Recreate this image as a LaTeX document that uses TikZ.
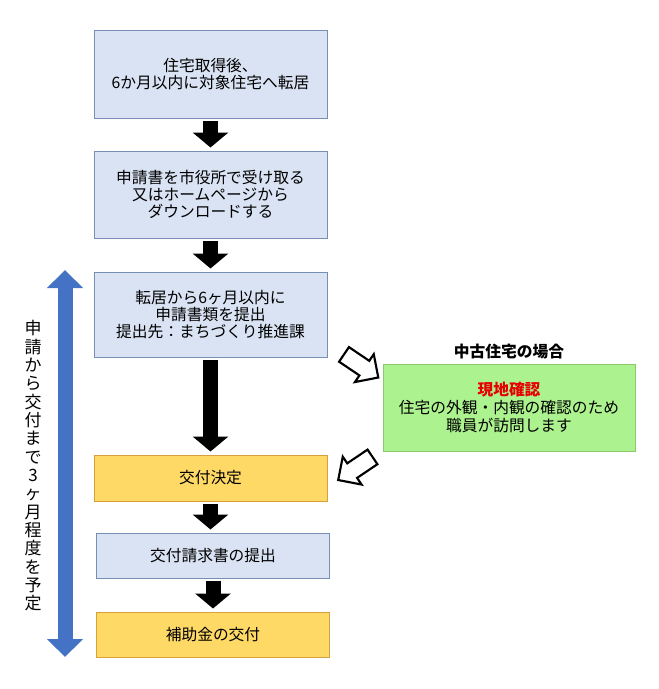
\documentclass[tikz,border=0pt]{standalone}
\usepackage{fontspec}
\setmainfont{Noto Sans CJK JP}
\usetikzlibrary{arrows.meta,shapes.arrows,positioning}
\definecolor{boxblue}{RGB}{218,227,243}
\definecolor{lineblue}{RGB}{120,143,180}
\definecolor{boxgold}{RGB}{255,217,102}
\definecolor{linegold}{RGB}{214,160,60}
\definecolor{boxgreen}{RGB}{172,242,142}
\definecolor{linegreen}{RGB}{140,200,110}
\definecolor{periodblue}{RGB}{68,114,196}
\definecolor{checkred}{RGB}{230,0,0}
\tikzset{every picture/.style={line width=0.75pt}}

\begin{document}
\begin{tikzpicture}[x=0.75pt,y=0.75pt,yscale=-1,xscale=1,
  stepbox/.style={draw=lineblue,fill=boxblue,minimum width=174.75pt,align=center,inner sep=0pt,font=\fontsize{11.8}{13}\selectfont},
  goldbox/.style={stepbox,draw=linegold,fill=boxgold},
  downarrow/.style={line width=11.25pt,-{Triangle[width=26.25pt,length=11.25pt]},shorten <=1.5pt,shorten >=2.25pt},
  hollowarrow/.style={draw,line width=1.6pt,single arrow,minimum height=31pt,single arrow head extend=6pt,inner xsep=0pt,inner ysep=5.8pt}]
		\useasboundingbox (0,0) rectangle (659,689);
		
		%Shape: Rectangle [id:move] 
		\node[stepbox,minimum height=66pt] (move) at (210.5,74) {住宅取得後、\\6か月以内に対象住宅へ転居};
		%Shape: Rectangle [id:form] 
		\node[stepbox,minimum height=65.25pt] (form) at (210.5,194.5) {申請書を市役所で受け取る\\又はホームページから\\ダウンロードする};
		%Shape: Rectangle [id:apply] 
		\node[stepbox,minimum height=63.75pt] (apply) at (210.5,314.5) {転居から6ヶ月以内に\\申請書類を提出\\提出先：まちづくり推進課};
		%Shape: Rectangle [id:decide] 
		\node[goldbox,minimum height=34.5pt] (decide) at (210.5,478) {交付決定};
		%Shape: Rectangle [id:claim] 
		\node[stepbox,minimum height=33.75pt] (claim) at (213,555.5) {交付請求書の提出};
		%Shape: Rectangle [id:grant] 
		\node[goldbox,minimum height=33.75pt] (grant) at (213,634.5) {補助金の交付};
		
		%Shape: Rectangle [id:visit] 
		\node[draw=linegreen,fill=boxgreen,minimum width=189pt,minimum height=65.25pt,align=center,inner sep=0pt,font=\fontsize{11.8}{13.5}\selectfont] (visit) at (509,407.5) {{\bfseries\color{checkred}現地確認}\\住宅の外観・内観の確認のため\\職員が訪問します};
		% Text Node
		\node[above=2pt of visit,inner sep=1pt,font=\fontsize{11.8}{13}\selectfont\bfseries] (usedcase) {中古住宅の場合};
		
		%Straight Lines [id:steps] 
		\draw[downarrow] (move.south) -- (move.south |- form.north);
		\draw[downarrow] (form.south) -- (form.south |- apply.north);
		\draw[downarrow] (apply.south) -- (apply.south |- decide.north);
		\draw[downarrow] (decide.south) -- (decide.south |- claim.north);
		\draw[downarrow] (claim.south) -- (claim.south |- grant.north);
		
		%Shape: Right Arrow [id:toVisit] 
		\node[hollowarrow,rotate=-34] (toVisit) at (357.5,363.5) {};
		%Shape: Right Arrow [id:toDecide] 
		\node[hollowarrow,rotate=-146] (toDecide) at (359,466) {};
		
		%Straight Lines [id:period] 
		\coordinate (periodtop) at (65,270);
		\coordinate (periodend) at (65,657);
		\draw[periodblue,line width=11.25pt,{Triangle[width=26.25pt,length=13.5pt]}-{Triangle[width=26.25pt,length=13.5pt]}] (periodtop) -- (periodend);
		% Text Node
		\node[align=center,inner sep=0pt,font=\fontsize{12.75}{13.75}\selectfont] (period) at (33,466) {申\\請\\か\\ら\\交\\付\\ま\\で\\3\\ヶ\\月\\程\\度\\を\\予\\定};
		
\end{tikzpicture}
\end{document}
